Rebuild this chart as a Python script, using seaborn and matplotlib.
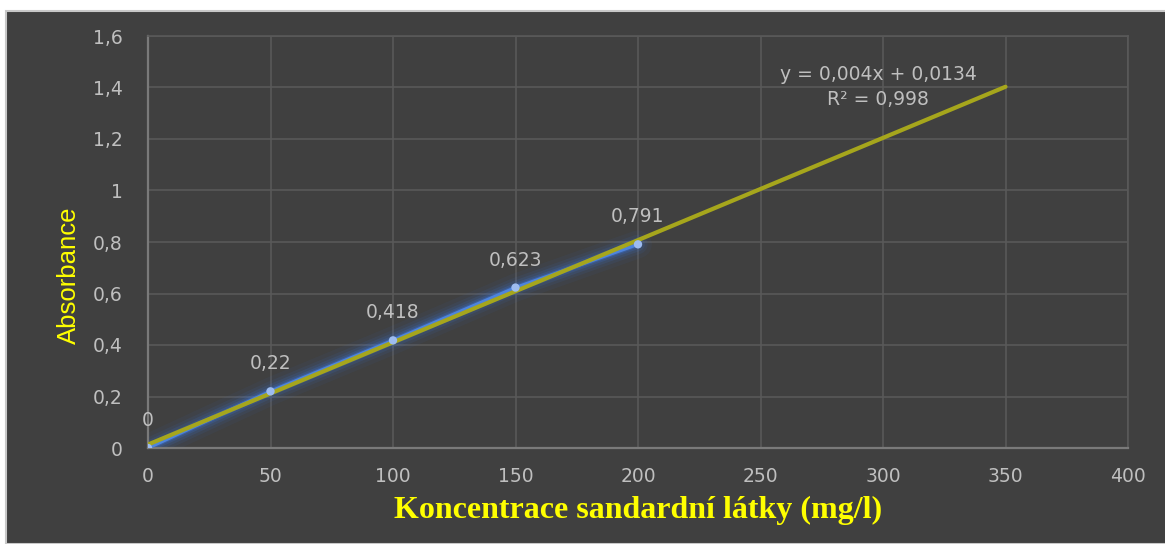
import numpy as np
import pandas as pd
import matplotlib
matplotlib.use("Agg")
import matplotlib.pyplot as plt
from matplotlib.patches import Rectangle
from matplotlib.ticker import FuncFormatter, MultipleLocator
import seaborn as sns

# calibration data (concentration mg/l vs. absorbance)
concentration = [0, 50, 100, 150, 200]
absorbance = [0, 0.22, 0.418, 0.623, 0.791]
point_labels = ["0", "0,22", "0,418", "0,623", "0,791"]
trend_range = [0, 350]   # linear trendline drawn forward to 350 mg/l

BG = "#404040"
GRID = "#595959"
TXT = "#bfbfbf"
YELLOW = "#ffff00"

sns.set_theme(style="darkgrid", rc={
    "axes.facecolor": BG, "figure.facecolor": "white",
    "grid.color": GRID, "grid.linewidth": 1.2,
})
plt.rcParams["font.family"] = ["DejaVu Sans"]

df = pd.DataFrame({"conc": concentration, "abs": absorbance})

# least squares fit -> trendline
slope, intercept = np.polyfit(concentration, absorbance, 1)
r2 = np.corrcoef(concentration, absorbance)[0, 1] ** 2
trend = pd.DataFrame({"conc": trend_range})
trend["abs"] = slope * trend["conc"] + intercept

fig = plt.figure(figsize=(11.65, 5.44), dpi=100)
# dark chart area with the thin light frame on top/left
fig.patches.append(Rectangle((6 / 1165, 0), 1, 533 / 544, transform=fig.transFigure,
                             facecolor=BG, edgecolor="#c8c8c8", linewidth=1.5, zorder=-5))
ax = fig.add_axes([148 / 1165, 96 / 544, 980 / 1165, 412 / 544])
ax.set_zorder(2)

# blue series with soft glow
for lw, a in [(20, 0.05), (14, 0.08), (10, 0.12), (6.5, 0.18), (4, 0.3)]:
    sns.lineplot(data=df, x="conc", y="abs", ax=ax, color="#3a78e6", lw=lw, alpha=a,
                 solid_capstyle="round", zorder=2)
sns.lineplot(data=df, x="conc", y="abs", ax=ax, color="#4d84de", lw=2.4, zorder=3)

# trendline
sns.lineplot(data=trend, x="conc", y="abs", ax=ax, color="#a6a61c", lw=3, zorder=4)

sns.scatterplot(data=df, x="conc", y="abs", ax=ax, color="#9dbcf0", s=36,
                edgecolor="none", zorder=5)

for xv, yv, lab in zip(concentration, absorbance, point_labels):
    ax.annotate(lab, (xv, yv), xytext=(0, 13), textcoords="offset points",
                ha="center", va="bottom", color=TXT, fontsize=13.5)

eq = "y = {:.3f}x + {:.4f}".format(slope, intercept).replace(".", ",")
ax.text(298, 1.45, eq, ha="center", va="center", color=TXT, fontsize=13.5)
ax.text(298, 1.353, "R² = {:.3f}".format(r2).replace(".", ","), ha="center",
        va="center", color=TXT, fontsize=13.5)

ax.set_xlim(0, 400)
ax.set_ylim(0, 1.6)
ax.xaxis.set_major_locator(MultipleLocator(50))
ax.yaxis.set_major_locator(MultipleLocator(0.2))
comma = FuncFormatter(lambda v, p: "{:g}".format(round(v, 2)).replace(".", ","))
ax.xaxis.set_major_formatter(comma)
ax.yaxis.set_major_formatter(comma)
ax.tick_params(colors=TXT, labelsize=13.5, length=0)
ax.tick_params(axis="x", pad=14)
ax.tick_params(axis="y", pad=18)

for side in ["top", "right"]:
    ax.spines[side].set_visible(True)
    ax.spines[side].set_color(GRID)
    ax.spines[side].set_linewidth(1.2)
for side in ["left", "bottom"]:
    ax.spines[side].set_visible(True)
    ax.spines[side].set_color("#7a7a7a")
    ax.spines[side].set_linewidth(1.6)

ax.set_xlabel("Koncentrace sandardní látky (mg/l)", color=YELLOW, fontsize=23,
              fontweight="bold", family="Liberation Serif")
ax.xaxis.set_label_coords(0.5, -(496 - 448) / 412)
ax.set_ylabel("Absorbance", color=YELLOW, fontsize=18.5,
              family=["Liberation Sans Narrow", "Liberation Sans"])
ax.yaxis.set_label_coords(-(148 - 81) / 980, (448 - 275) / 412)

fig.savefig("out.png", dpi=100)
